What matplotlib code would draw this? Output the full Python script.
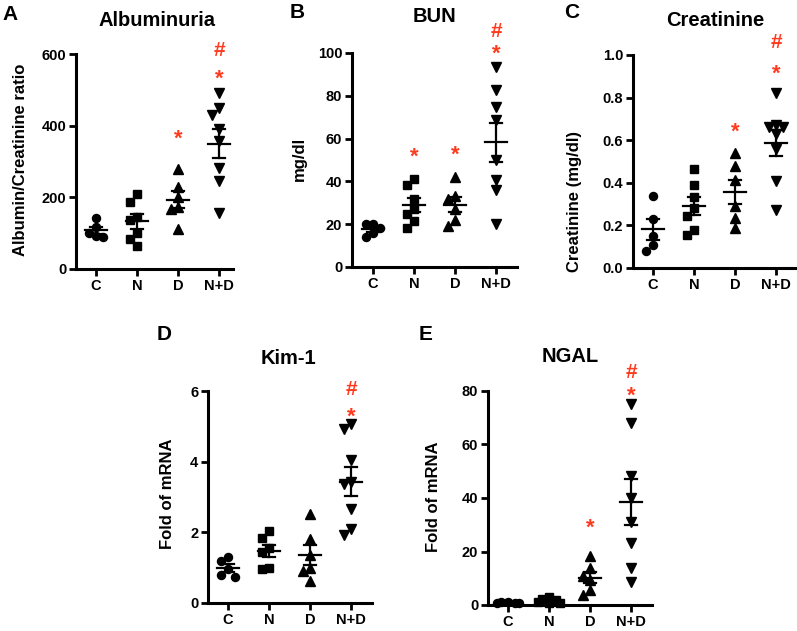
import numpy as np
import matplotlib
matplotlib.use("Agg")
import matplotlib.pyplot as plt
from matplotlib.transforms import offset_copy

plt.rcParams["font.family"] = ["Liberation Sans", "DejaVu Sans"]
plt.rcParams["font.weight"] = "bold"

groups = ["C", "N", "D", "N+D"]
group_markers = ["o", "s", "^", "v"]

# A - Albuminuria (albumin/creatinine ratio)
albu_c = [143, 118, 100, 88, 92]
albu_n = [187, 210, 145, 138, 100, 85, 65]
albu_d = [280, 228, 200, 172, 168, 112]
albu_nd = [491, 449, 430, 391, 356, 282, 245, 156]
albu_marks = [(2, 384, "*"), (3, 552, "*"), (3, 614, "#")]

# B - BUN (mg/dl)
bun_c = [20, 20, 18, 16, 14]
bun_n = [41, 38.5, 32, 27, 25, 21.5, 18]
bun_d = [42, 33, 32, 27, 22, 19]
bun_nd = [93.5, 82.6, 74.8, 68.5, 49.8, 40.5, 35.8, 20.2]
bun_marks = [(1, 55, "*"), (2, 56, "*"), (3, 103, "*"), (3, 111, "#")]

# C - Creatinine (mg/dl)
crea_c = [0.34, 0.23, 0.15, 0.106, 0.078]
crea_n = [0.464, 0.388, 0.331, 0.281, 0.242, 0.18, 0.153]
crea_d = [0.539, 0.477, 0.414, 0.289, 0.234, 0.188]
crea_nd = [0.82, 0.67, 0.66, 0.66, 0.63, 0.56, 0.41, 0.27]
crea_marks = [(2, 0.672, "*"), (3, 0.948, "*"), (3, 1.067, "#")]

# D - Kim-1 (fold of mRNA)
kim_c = [1.3, 1.2, 0.97, 0.78, 0.73]
kim_n = [2.05, 1.85, 1.55, 1.45, 1.0, 0.95]
kim_d = [2.52, 1.8, 1.37, 0.98, 0.9, 0.62]
kim_nd = [4.92, 5.06, 4.04, 3.36, 3.43, 2.67, 2.1, 1.92]
kim_marks = [(3, 5.48, "*"), (3, 6.09, "#")]

# E - NGAL (fold of mRNA)
ngal_c = [1.2, 1.0, 0.9, 0.8, 0.7]
ngal_n = [3.0, 2.2, 1.8, 1.2, 0.9, 0.6]
ngal_d = [18.3, 13.7, 10.8, 9.3, 5.6, 3.7]
ngal_nd = [75, 67.9, 48.3, 39.9, 31.2, 23.1, 13.7, 8.7]
ngal_marks = [(2, 31.8, "*"), (3, 81, "*"), (3, 87.5, "#")]

W, H = 797, 631
RED = "#ff3b1f"
fig = plt.figure(figsize=(W / 100, H / 100), dpi=100)


def swarm(vals, px_per_unit, d=0.17, thresh=9.0):
    # simple deterministic spread of points that would overlap
    vals = np.asarray(vals, float)
    offs = np.zeros(len(vals))
    placed = []
    cands = (0, -d, d, -1.6 * d, 1.6 * d)
    for i in np.argsort(-vals):
        best, best_score = 0, -1
        for cand in cands:
            score = min([max(abs(cand - ox) / d, abs(vals[i] - oy) * px_per_unit / thresh)
                         for ox, oy in placed] or [9])
            if score >= 0.95:
                best = cand
                break
            if score > best_score:
                best, best_score = cand, score
        offs[i] = best
        placed.append((best, vals[i]))
    return offs


def panel(left, y0, ytop, right, x_c, ymax, yticks, ytl, data, marks,
          title, title_xy, ylabel, ylabel_xy, letter, letter_xy):
    spacing = 41.0
    ax = fig.add_axes([left / W, 1 - y0 / H, (right - left) / W, (y0 - ytop) / H])
    ax.set_xlim((left - x_c) / spacing, (right - x_c) / spacing)
    ax.set_ylim(0, ymax)
    ppu = (y0 - ytop) / ymax
    for k, vals in enumerate(data):
        offs = swarm(vals, ppu)
        ax.plot(k + offs, vals, linestyle="none", marker=group_markers[k],
                color="black", ms=6.5 if k >= 2 else 5.8, clip_on=False, zorder=3)
        m = np.mean(vals)
        se = np.std(vals, ddof=1) / np.sqrt(len(vals))
        ax.plot([k - 0.28, k + 0.28], [m, m], color="black", lw=1.6, zorder=4)
        ax.plot([k - 0.14, k + 0.14], [m + se, m + se], color="black", lw=1.6, zorder=4)
        ax.plot([k - 0.14, k + 0.14], [m - se, m - se], color="black", lw=1.6, zorder=4)
        ax.plot([k, k], [m - se, m + se], color="black", lw=1.6, zorder=4)
    for gx, gy, sym in marks:
        shift = -0.6 * 16 if sym == "*" else -0.36 * 15
        tr = offset_copy(ax.transData, fig=fig, y=shift, units="points")
        ax.text(gx, gy, sym, color=RED, fontsize=16 if sym == "*" else 15,
                ha="center", va="baseline", transform=tr, clip_on=False)
    ax.set_xticks(range(len(groups)))
    ax.set_xticklabels(groups, fontsize=10.5, fontweight="bold")
    ax.set_yticks(yticks)
    ax.set_yticklabels(ytl, fontsize=10.5, fontweight="bold")
    for s in ("top", "right"):
        ax.spines[s].set_visible(False)
    for s in ("left", "bottom"):
        ax.spines[s].set_linewidth(2.2)
    ax.tick_params(width=2.0, length=5, pad=2)
    fig.text(title_xy[0] / W, 1 - title_xy[1] / H, title, fontsize=14.5,
             fontweight="bold", ha="center", va="center")
    fig.text(ylabel_xy[0] / W, 1 - ylabel_xy[1] / H, ylabel, fontsize=12,
             fontweight="bold", ha="center", va="center", rotation=90)
    fig.text(letter_xy[0] / W, 1 - letter_xy[1] / H, letter, fontsize=15,
             fontweight="bold", ha="center", va="center")
    return ax


panel(76, 269, 54, 233, 96, 600, [0, 200, 400, 600], ["0", "200", "400", "600"],
      [albu_c, albu_n, albu_d, albu_nd], albu_marks,
      "Albuminuria", (157, 21), "Albumin/Creatinine ratio", (21, 160), "A", (10, 15))
panel(352, 267, 53, 517, 373, 100, [0, 20, 40, 60, 80, 100],
      ["0", "20", "40", "60", "80", "100"],
      [bun_c, bun_n, bun_d, bun_nd], bun_marks,
      "BUN", (435, 17), "mg/dl", (299, 159), "B", (297, 12))
panel(633, 268, 55, 795, 653, 1.0, [0, 0.2, 0.4, 0.6, 0.8, 1.0],
      ["0.0", "0.2", "0.4", "0.6", "0.8", "1.0"],
      [crea_c, crea_n, crea_d, crea_nd], crea_marks,
      "Creatinine", (715, 21), "Creatinine (mg/dl)", (575, 202), "C", (572, 12))
panel(208, 603, 391, 372, 228, 6, [0, 2, 4, 6], ["0", "2", "4", "6"],
      [kim_c, kim_n, kim_d, kim_nd], kim_marks,
      "Kim-1", (288, 358), "Fold of mRNA", (167, 494), "D", (164, 334))
panel(488, 605, 391, 652, 508, 80, [0, 20, 40, 60, 80], ["0", "20", "40", "60", "80"],
      [ngal_c, ngal_n, ngal_d, ngal_nd], ngal_marks,
      "NGAL", (570, 357), "Fold of mRNA", (433, 497), "E", (426, 335))

fig.savefig("out.png", dpi=100)
